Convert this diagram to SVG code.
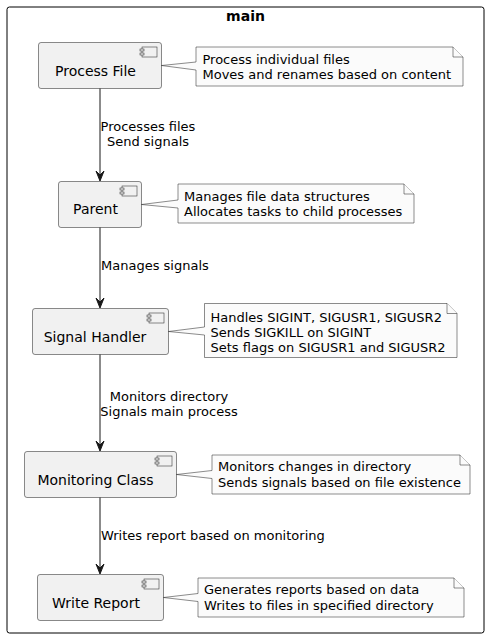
<svg xmlns="http://www.w3.org/2000/svg" width="491" height="641" viewBox="0 0 491 641">
<style>
text{font-family:"DejaVu Sans","Liberation Sans",sans-serif;fill:#000}
.comp{fill:#F1F1F1;stroke:#181818;stroke-width:0.5}
.ic{fill:#F1F1F1;stroke:#181818;stroke-width:0.5}
.cn{font-size:14px;text-anchor:middle}
.note{fill:#FBFBFB;stroke:#181818;stroke-width:0.5}
.nt{font-size:13px}
.lbl{font-size:13px}
.edge{stroke:#181818;stroke-width:1;fill:none}
.ah{fill:#181818;stroke:#181818;stroke-width:1}
</style>
<rect x="7" y="7" width="477" height="626" rx="2.5" fill="none" stroke="#000" stroke-width="1"/>
<text x="245.5" y="21" font-size="14" font-weight="bold" text-anchor="middle" style="font-weight:bold">main</text>

<g id="processFile">
<rect class="comp" x="38.5" y="42.5" width="123" height="46" rx="2.5"/>
<rect class="ic" x="142" y="47" width="15" height="10"/>
<rect class="ic" x="140" y="49" width="4" height="2"/>
<rect class="ic" x="140" y="53" width="4" height="2"/>
<text class="cn" x="95.5" y="75.5">Process File</text>
</g>
<g id="noteProcessFile">
<path class="note" d="M196,47 L453,47 L463,57 L463,86 L196,86 L196,70 L161.5,65.5 L196,62 Z"/>
<path class="note" d="M453,47 L453,57 L463,57"/>
<text class="nt" x="202.5" y="64">Process individual files</text>
<text class="nt" x="202.5" y="79">Moves and renames based on content</text>
</g>

<g id="parent">
<rect class="comp" x="58.5" y="181.5" width="83" height="46" rx="2.5"/>
<rect class="ic" x="122" y="186" width="15" height="10"/>
<rect class="ic" x="120" y="188" width="4" height="2"/>
<rect class="ic" x="120" y="192" width="4" height="2"/>
<text class="cn" x="95.5" y="214">Parent</text>
</g>
<g id="noteParent">
<path class="note" d="M178,184 L404,184 L414,194 L414,223 L178,223 L178,208 L141.5,204.5 L178,200 Z"/>
<path class="note" d="M404,184 L404,194 L414,194"/>
<text class="nt" x="184" y="200.5">Manages file data structures</text>
<text class="nt" x="184" y="216">Allocates tasks to child processes</text>
</g>

<g id="signalHandler">
<rect class="comp" x="32.5" y="308.5" width="136" height="46" rx="2.5"/>
<rect class="ic" x="149" y="313" width="15" height="10"/>
<rect class="ic" x="147" y="315" width="4" height="2"/>
<rect class="ic" x="147" y="319" width="4" height="2"/>
<text class="cn" x="95" y="341.5">Signal Handler</text>
</g>
<g id="noteSignalHandler">
<path class="note" d="M204.5,303.5 L447,303.5 L457,313.5 L457,357.5 L204.5,357.5 L204.5,335 L168.5,331.5 L204.5,327 Z"/>
<path class="note" d="M447,303.5 L447,313.5 L457,313.5"/>
<text class="nt" x="210.5" y="321.5">Handles SIGINT, SIGUSR1, SIGUSR2</text>
<text class="nt" x="210.5" y="336.5">Sends SIGKILL on SIGINT</text>
<text class="nt" x="210.5" y="351.5">Sets flags on SIGUSR1 and SIGUSR2</text>
</g>

<g id="monitoringClass">
<rect class="comp" x="24.5" y="451.5" width="152" height="46" rx="2.5"/>
<rect class="ic" x="157" y="456" width="15" height="10"/>
<rect class="ic" x="155" y="458" width="4" height="2"/>
<rect class="ic" x="155" y="462" width="4" height="2"/>
<text class="cn" x="95.5" y="484.5">Monitoring Class</text>
</g>
<g id="noteMonitoringClass">
<path class="note" d="M212,455 L460,455 L470,465 L470,494 L212,494 L212,478.5 L176.5,474.5 L212,470.5 Z"/>
<path class="note" d="M460,455 L460,465 L470,465"/>
<text class="nt" x="218" y="471">Monitors changes in directory</text>
<text class="nt" x="218" y="487">Sends signals based on file existence</text>
</g>

<g id="writeReport">
<rect class="comp" x="37.5" y="574.5" width="126" height="46" rx="2.5"/>
<rect class="ic" x="144" y="579" width="15" height="10"/>
<rect class="ic" x="142" y="581" width="4" height="2"/>
<rect class="ic" x="142" y="585" width="4" height="2"/>
<text class="cn" x="96" y="607.5">Write Report</text>
</g>
<g id="noteWriteReport">
<path class="note" d="M198,578 L454,578 L464,588 L464,617 L198,617 L198,601.5 L163.5,597.5 L198,593.5 Z"/>
<path class="note" d="M454,578 L454,588 L464,588"/>
<text class="nt" x="204" y="594">Generates reports based on data</text>
<text class="nt" x="204" y="610">Writes to files in specified directory</text>
</g>

<g id="connectors">
<path class="edge" d="M100,88.5 L100,175"/>
<polygon class="ah" points="96,171 100,181 104,171 100,175"/>
<text class="lbl" x="148" y="131" text-anchor="middle">Processes files</text>
<text class="lbl" x="148" y="146" text-anchor="middle">Send signals</text>

<path class="edge" d="M100,227.5 L100,302"/>
<polygon class="ah" points="96,298 100,308 104,298 100,302"/>
<text class="lbl" x="101" y="270">Manages signals</text>

<path class="edge" d="M100,354.5 L100,445"/>
<polygon class="ah" points="96,441 100,451 104,441 100,445"/>
<text class="lbl" x="169" y="401" text-anchor="middle">Monitors directory</text>
<text class="lbl" x="169" y="416" text-anchor="middle">Signals main process</text>

<path class="edge" d="M100,497.5 L100,568"/>
<polygon class="ah" points="96,564 100,574 104,564 100,568"/>
<text class="lbl" x="101" y="540">Writes report based on monitoring</text>
</g>
</svg>
